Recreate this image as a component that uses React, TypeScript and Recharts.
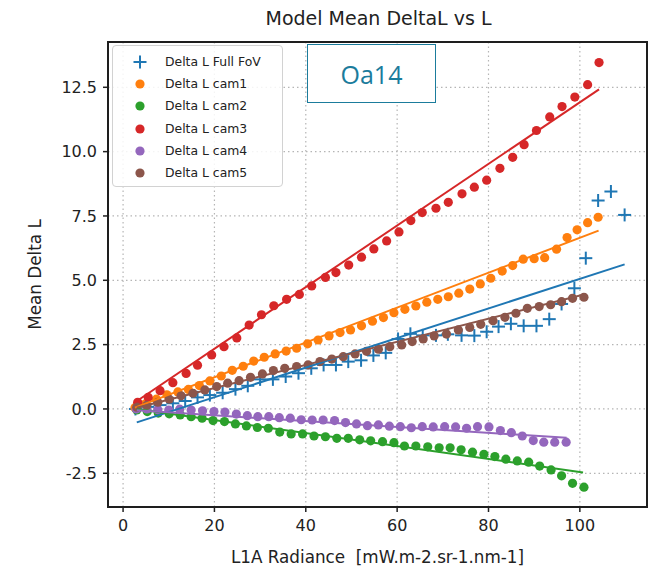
import React from 'react';
import { ComposedChart, Scatter, XAxis, YAxis, CartesianGrid } from 'recharts';

// L1A radiance (x) and mean delta L (y)
const fovX = [2.7, 5.4, 8.1, 10.9, 13.6, 16.3, 19.0, 21.8, 24.6, 27.3, 30.0, 32.8, 35.6, 38.4, 41.2, 43.9, 46.6, 49.3, 52.1, 54.8, 57.5, 60.2, 62.9, 65.6, 68.5, 71.1, 74.1, 76.9, 79.6, 82.2, 84.9, 87.7, 90.5, 93.3, 96.0, 98.8, 101.3, 104.0, 106.8, 109.8];
const fovY = [0.0, 0.08, 0.15, 0.22, 0.31, 0.45, 0.54, 0.63, 0.77, 0.9, 1.15, 1.15, 1.26, 1.39, 1.58, 1.71, 1.71, 1.84, 1.89, 2.08, 2.18, 2.72, 2.92, 2.86, 2.86, 2.9, 2.86, 2.85, 3.0, 3.2, 3.31, 3.23, 3.23, 3.49, 4.08, 4.69, 5.86, 8.1, 8.45, 7.54];

const cam1X = [2.6, 4.9, 7.3, 9.6, 12.0, 14.3, 16.7, 19.0, 21.5, 23.9, 26.3, 28.6, 30.9, 33.3, 35.7, 38.0, 40.4, 42.7, 45.1, 47.5, 49.8, 52.2, 54.6, 57.0, 59.3, 61.7, 64.1, 66.5, 68.9, 71.2, 73.5, 75.9, 78.2, 80.5, 83.0, 85.3, 87.6, 90.0, 92.3, 94.9, 97.2, 99.4, 101.7, 104.0];
const cam1Y = [0.05, 0.2, 0.38, 0.55, 0.66, 0.76, 0.91, 1.09, 1.28, 1.5, 1.66, 1.86, 2.01, 2.14, 2.25, 2.36, 2.53, 2.68, 2.84, 2.97, 3.07, 3.23, 3.41, 3.55, 3.74, 3.87, 4.0, 4.15, 4.26, 4.36, 4.5, 4.66, 4.86, 5.08, 5.36, 5.57, 5.82, 5.84, 5.88, 6.21, 6.66, 6.96, 7.24, 7.45];

const cam2X = [3.0, 5.3, 7.7, 10.1, 12.5, 14.9, 17.3, 19.7, 22.2, 24.6, 27.0, 29.4, 31.8, 34.3, 36.8, 39.3, 41.8, 44.3, 46.8, 49.3, 51.8, 54.2, 56.8, 59.3, 61.6, 64.1, 66.7, 69.2, 71.6, 74.0, 76.5, 79.0, 81.4, 83.8, 86.3, 88.8, 91.2, 93.7, 96.0, 98.4, 100.9];
const cam2Y = [-0.04, -0.1, -0.16, -0.19, -0.23, -0.3, -0.36, -0.45, -0.49, -0.58, -0.66, -0.72, -0.75, -0.9, -0.97, -0.97, -1.05, -1.08, -1.14, -1.14, -1.2, -1.24, -1.27, -1.31, -1.44, -1.44, -1.47, -1.51, -1.51, -1.59, -1.68, -1.76, -1.85, -1.95, -2.02, -2.07, -2.22, -2.37, -2.6, -2.89, -3.04];

const cam3X = [3.2, 5.5, 8.1, 10.9, 13.8, 16.3, 19.4, 22.1, 24.9, 27.6, 30.3, 33.0, 35.8, 38.6, 41.3, 44.3, 46.6, 49.4, 52.2, 54.9, 57.7, 60.4, 63.0, 65.5, 68.5, 71.2, 74.2, 76.9, 79.6, 82.5, 85.3, 87.8, 90.5, 93.4, 96.1, 98.9, 101.7, 104.2];
const cam3Y = [0.26, 0.45, 0.71, 1.02, 1.38, 1.7, 2.1, 2.42, 2.76, 3.26, 3.66, 4.01, 4.26, 4.45, 4.78, 5.11, 5.3, 5.59, 5.9, 6.22, 6.53, 6.88, 7.32, 7.63, 7.8, 8.03, 8.36, 8.62, 8.89, 9.35, 9.78, 10.27, 10.82, 11.35, 11.75, 12.12, 12.6, 13.46];

const cam4X = [2.9, 5.2, 7.6, 10.0, 12.4, 14.9, 17.4, 19.9, 22.3, 24.8, 27.2, 29.5, 31.9, 34.2, 36.6, 39.0, 41.4, 43.8, 46.3, 48.7, 51.1, 53.5, 55.9, 58.3, 60.7, 63.1, 65.5, 67.9, 70.4, 72.8, 75.2, 77.6, 80.1, 82.6, 85.0, 87.4, 89.8, 92.1, 94.5, 97.0];
const cam4Y = [0.0, 0.0, -0.03, -0.04, -0.01, -0.04, -0.07, -0.1, -0.12, -0.2, -0.26, -0.3, -0.3, -0.34, -0.36, -0.42, -0.43, -0.43, -0.45, -0.53, -0.58, -0.65, -0.62, -0.67, -0.69, -0.73, -0.69, -0.7, -0.69, -0.7, -0.75, -0.69, -0.7, -0.84, -0.92, -1.05, -1.23, -1.29, -1.29, -1.29];

const cam5X = [3.0, 5.2, 7.6, 10.1, 12.7, 15.3, 17.9, 20.5, 22.9, 25.4, 27.9, 30.5, 32.9, 35.4, 38.0, 40.5, 43.1, 45.7, 48.2, 50.8, 53.3, 55.9, 58.4, 61.0, 63.3, 65.7, 68.1, 70.8, 73.4, 75.9, 78.3, 81.0, 83.6, 86.0, 88.5, 91.1, 93.6, 96.0, 98.4, 100.9];
const cam5Y = [0.07, 0.14, 0.26, 0.38, 0.51, 0.61, 0.74, 0.87, 1.0, 1.1, 1.23, 1.36, 1.49, 1.58, 1.65, 1.71, 1.84, 1.94, 2.03, 2.14, 2.24, 2.32, 2.42, 2.49, 2.62, 2.72, 2.84, 2.91, 3.07, 3.17, 3.29, 3.43, 3.56, 3.72, 3.91, 3.98, 4.05, 4.17, 4.3, 4.34];

// linear fit end points [x0, y0, x1, y1]
const fitFov = [3.0, -0.52, 109.8, 5.62];
const fitCam1 = [2.6, 0.05, 104.1, 6.93];
const fitCam2 = [3.0, 0.0, 100.7, -2.47];
const fitCam3 = [2.3, 0.22, 104.2, 12.42];
const fitCam4 = [3.0, -0.05, 97.1, -1.12];
const fitCam5 = [3.0, 0.05, 100.9, 4.45];

const xTicks = [0, 20, 40, 60, 80, 100];
const yTicks = [-2.5, 0, 2.5, 5, 7.5, 10, 12.5];

const zip = (xs: number[], ys: number[]) => xs.map((x, i) => ({ x, y: ys[i] }));
const fitPts = (f: number[]) => [{ x: f[0], y: f[1] }, { x: f[2], y: f[3] }];

const series = [
  { name: 'Delta L Full FoV', color: '#1f77b4', data: zip(fovX, fovY), fit: fitFov, plus: true },
  { name: 'Delta L cam1', color: '#ff7f0e', data: zip(cam1X, cam1Y), fit: fitCam1 },
  { name: 'Delta L cam2', color: '#2ca02c', data: zip(cam2X, cam2Y), fit: fitCam2 },
  { name: 'Delta L cam3', color: '#d62728', data: zip(cam3X, cam3Y), fit: fitCam3 },
  { name: 'Delta L cam4', color: '#9467bd', data: zip(cam4X, cam4Y), fit: fitCam4 },
  { name: 'Delta L cam5', color: '#8c564b', data: zip(cam5X, cam5Y), fit: fitCam5 },
];

const FONT = '"DejaVu Sans", sans-serif';

const plusShape = (color: string) => (p: any) => (
  <g stroke={color} strokeWidth={2}>
    <line x1={p.cx - 6.5} y1={p.cy} x2={p.cx + 6.5} y2={p.cy} />
    <line x1={p.cx} y1={p.cy - 6.5} x2={p.cx} y2={p.cy + 6.5} />
  </g>
);
const dotShape = (color: string) => (p: any) => <circle cx={p.cx} cy={p.cy} r={4.6} fill={color} />;
const noShape = () => <g />;

export default function App() {
  return (
    <div style={{ position: 'absolute', left: 0, top: 0, width: 651, height: 566, background: '#fff', fontFamily: FONT }}>
      <div style={{ position: 'absolute', left: 108, width: 541, top: 7, textAlign: 'center', fontSize: 19, color: '#222' }}>
        Model Mean DeltaL vs L
      </div>
      <ComposedChart width={651} height={566} margin={{ top: 42, right: 4, left: 0, bottom: 0 }}>
        <CartesianGrid stroke="#b5b5b5" strokeDasharray="1.5 3" strokeWidth={1.2} />
        <XAxis
          type="number"
          dataKey="x"
          domain={[-3.3, 114.7]}
          ticks={xTicks}
          allowDataOverflow
          height={59}
          axisLine={false}
          tickSize={5}
          tickMargin={8}
          tickLine={{ stroke: '#222', strokeWidth: 1.5 }}
          tick={{ fontSize: 16, fill: '#222', fontFamily: FONT }}
          label={{ value: 'L1A Radiance \u00a0[mW.m-2.sr-1.nm-1]', position: 'insideBottom', offset: 3, style: { fontSize: 16.8, fill: '#222', fontFamily: FONT } }}
        />
        <YAxis
          type="number"
          dataKey="y"
          domain={[-3.81, 14.26]}
          ticks={yTicks}
          allowDataOverflow
          width={108}
          axisLine={false}
          tickSize={5}
          tickMargin={6}
          tickFormatter={(v) => Number(v).toFixed(1)}
          tickLine={{ stroke: '#222', strokeWidth: 1.5 }}
          tick={{ fontSize: 16, fill: '#222', fontFamily: FONT }}
          label={{ value: 'Mean Delta L', angle: -90, position: 'insideLeft', offset: 35, style: { textAnchor: 'middle', fontSize: 16.8, fill: '#222', fontFamily: FONT } }}
        />
        {series.map((s) => (
          <Scatter
            key={s.name}
            name={s.name}
            data={s.data}
            fill={s.color}
            shape={s.plus ? plusShape(s.color) : dotShape(s.color)}
            isAnimationActive={false}
          />
        ))}
        {series.map((s) => (
          <Scatter
            key={s.name + '-fit'}
            data={fitPts(s.fit)}
            line={{ stroke: s.color, strokeWidth: 2 }}
            shape={noShape}
            legendType="none"
            isAnimationActive={false}
          />
        ))}
      </ComposedChart>
      <div style={{ position: 'absolute', left: 107, top: 41, width: 541, height: 467, boxSizing: 'border-box', border: '2px solid #1e1e1e', pointerEvents: 'none' }} />
      <div style={{ position: 'absolute', left: 112, top: 45, width: 171, height: 142, boxSizing: 'border-box', border: '1px solid #d2d2d2', borderRadius: 4, background: 'rgba(255,255,255,0.85)' }}>
        {series.map((s, i) => (
          <div key={s.name} style={{ position: 'absolute', left: 0, top: 5 + i * 22.2, height: 22, width: '100%' }}>
            <svg width={20} height={20} style={{ position: 'absolute', left: 17, top: 1 }}>
              {s.plus ? (
                <g stroke={s.color} strokeWidth={2}>
                  <line x1={3.5} y1={10} x2={16.5} y2={10} />
                  <line x1={10} y1={3.5} x2={10} y2={16.5} />
                </g>
              ) : (
                <circle cx={10} cy={10} r={4.6} fill={s.color} />
              )}
            </svg>
            <span style={{ position: 'absolute', left: 52, top: 3, fontSize: 12.4, color: '#222', whiteSpace: 'nowrap' }}>{s.name}</span>
          </div>
        ))}
      </div>
      <div style={{ position: 'absolute', left: 307, top: 44, width: 129, height: 59, boxSizing: 'border-box', border: '1.5px solid #1b7c9c', color: '#1b7c9c', fontFamily: '"Open Sans", sans-serif', fontSize: 25, display: 'flex', alignItems: 'center', justifyContent: 'center', background: '#fff' }}>
        Oa14
      </div>
    </div>
  );
}
